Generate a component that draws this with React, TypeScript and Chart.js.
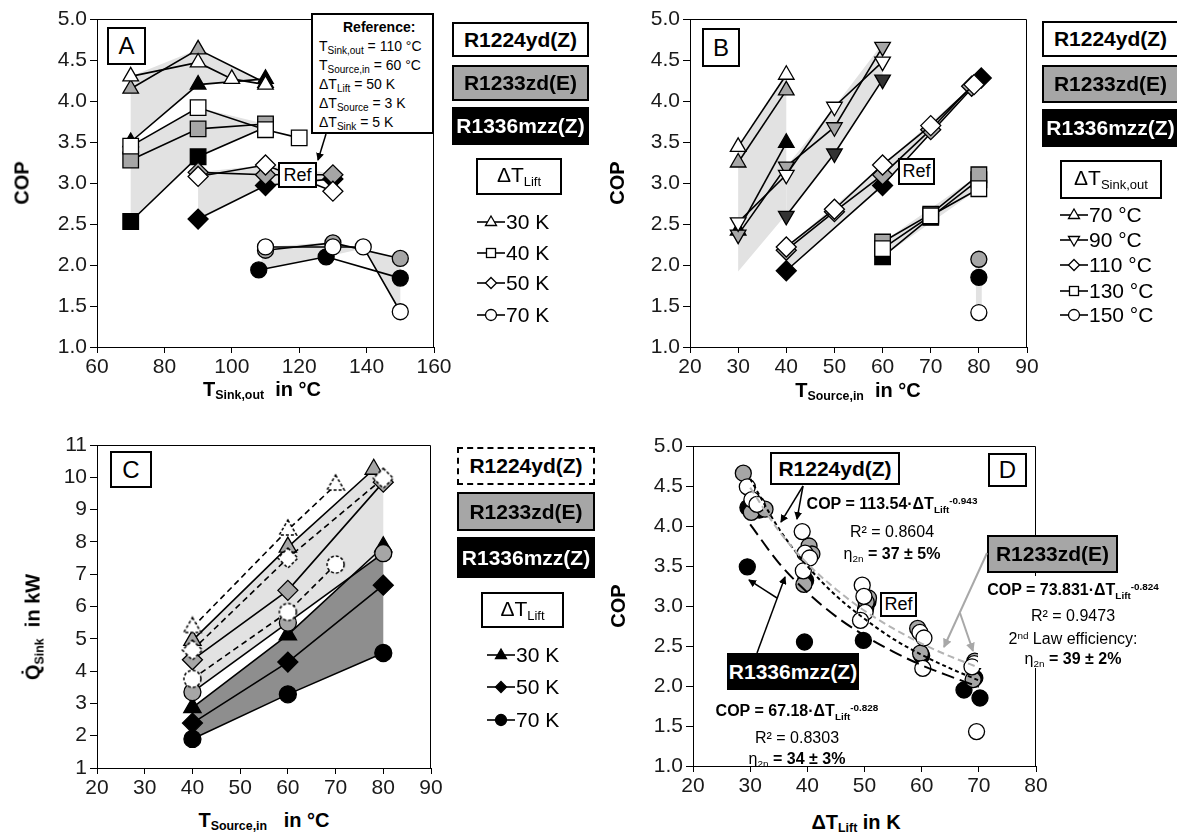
import React, { useEffect, useRef } from 'react';
import { Chart, registerables } from 'chart.js';

Chart.register(...registerables);

type P = [number, number];

// ===== Panel A: COP vs T_Sink,out =====
const A_W30: P[] = [[70, 4.30], [90, 4.47], [100, 4.27], [110, 4.20]];
const A_G30: P[] = [[70, 4.15], [90, 4.63], [110, 4.22]];
const A_B30: P[] = [[70, 3.50], [90, 4.20], [110, 4.27]];
const A_W40: P[] = [[70, 3.45], [90, 3.92], [110, 3.65], [120, 3.55]];
const A_G40: P[] = [[70, 3.28], [90, 3.66], [110, 3.72]];
const A_B40: P[] = [[70, 2.53], [90, 3.32], [110, 3.68]];
const A_W50: P[] = [[90, 3.08], [110, 3.22], [130, 2.90]];
const A_G50: P[] = [[90, 3.13], [110, 3.10], [130, 3.10]];
const A_B50: P[] = [[90, 2.56], [110, 2.97], [130, 3.05]];
const A_W70: P[] = [[110, 2.22], [130, 2.22], [139, 2.22], [150, 1.43]];
const A_G70: P[] = [[110, 2.18], [130, 2.27], [150, 2.08]];
const A_B70: P[] = [[108, 1.94], [128, 2.10], [150, 1.84]];
const A_BAND30: P[] = [[70, 4.30], [90, 4.63], [110, 4.22], [110, 4.27], [90, 4.20], [70, 3.50]];
const A_BAND40: P[] = [[70, 3.45], [90, 3.92], [110, 3.72], [110, 3.68], [90, 3.32], [70, 2.53]];
const A_BAND50: P[] = [[90, 3.13], [110, 3.22], [130, 3.12], [130, 3.05], [110, 2.97], [90, 2.56]];
const A_BAND70: P[] = [[110, 2.22], [130, 2.28], [150, 2.08], [150, 1.43], [139, 2.20], [128, 2.10], [108, 1.94]];

// ===== Panel B: COP vs T_Source,in =====
const B_W70: P[] = [[30, 3.44], [40, 4.32]];
const B_G70: P[] = [[30, 3.25], [40, 4.13]];
const B_B70: P[] = [[30, 2.42], [40, 3.49]];
const B_W90: P[] = [[30, 2.52], [40, 3.10], [50, 3.93], [60, 4.48]];
const B_G90: P[] = [[30, 2.37], [40, 3.20], [50, 3.68], [60, 4.66]];
const B_B90: P[] = [[40, 2.60], [50, 3.36], [60, 4.26]];
const B_W110: P[] = [[40, 2.22], [50, 2.68], [60, 3.22], [70, 3.70], [79, 4.20]];
const B_G110: P[] = [[40, 2.18], [50, 2.65], [60, 3.10], [70, 3.65], [78.5, 4.18]];
const B_B110: P[] = [[40, 1.93], [60, 2.97], [80.5, 4.28]];
const B_W130: P[] = [[60, 2.20], [70, 2.60], [80, 2.93]];
const B_G130: P[] = [[60, 2.28], [70, 2.62], [80, 3.10]];
const B_B130: P[] = [[60, 2.10], [70, 2.58], [80, 3.04]];
const B_W150: P[] = [[80, 1.42]];
const B_G150: P[] = [[80, 2.07]];
const B_B150: P[] = [[80, 1.85]];
const B_BAND70: P[] = [[30, 3.44], [40, 4.32], [40, 2.62], [30, 1.92]];
const B_BAND90: P[] = [[40, 3.20], [50, 3.93], [60, 4.70], [60, 4.26], [50, 3.36], [40, 2.60]];
const B_BAND110: P[] = [[40, 2.22], [60, 3.22], [79, 4.20], [80.5, 4.28], [60, 2.97], [40, 1.93]];
const B_BAND130: P[] = [[60, 2.28], [80, 3.10], [80, 2.93], [60, 2.10]];
const B_BAND150: P[] = [[79.4, 2.07], [80.6, 2.07], [80.6, 1.42], [79.4, 1.42]];

// ===== Panel C: Q_Sink vs T_Source,in =====
const C_W30: P[] = [[40, 5.35], [60, 8.37], [70, 9.76]];
const C_G30: P[] = [[40, 4.95], [60, 7.84], [78, 10.25]];
const C_W50: P[] = [[40, 4.65], [60, 7.50], [80, 9.97]];
const C_G50: P[] = [[40, 4.35], [60, 6.50], [80, 9.85]];
const C_W70: P[] = [[40, 3.76], [60, 5.83], [70, 7.30]];
const C_G70: P[] = [[40, 3.35], [60, 5.50], [80, 7.65]];
const C_B30: P[] = [[40, 2.87], [60, 5.12], [80, 7.85]];
const C_B50: P[] = [[40, 2.39], [60, 4.28], [80, 6.66]];
const C_B70: P[] = [[40, 1.90], [60, 3.28], [80, 4.56]];
const C_LIGHT: P[] = [[40, 4.95], [60, 7.84], [78, 10.25], [80, 10.25], [80, 7.65], [60, 5.50], [40, 3.35]];
const C_DARK: P[] = [[40, 2.87], [60, 5.12], [80, 7.85], [80, 4.56], [60, 3.28], [40, 1.90]];

// ===== Panel D: COP vs ΔT_Lift =====
const D_R1224: P[] = [[29.5, 4.49], [30.3, 4.33], [31.2, 4.27], [39.1, 3.93], [39.6, 3.66], [40.4, 3.60], [39.3, 3.44], [49.6, 3.26], [49.9, 3.12], [50.1, 2.92], [49.3, 2.82], [59.7, 2.67], [60.4, 2.60], [60.2, 2.22], [69.2, 2.28], [68.8, 2.24], [69.6, 1.43]];
const D_R1233: P[] = [[28.8, 4.66], [30.2, 4.17], [32.6, 4.21], [40.3, 3.75], [40.8, 3.65], [39.4, 3.27], [50.7, 3.10], [50.3, 3.05], [59.3, 2.72], [59.8, 2.41], [69.3, 2.31], [69.0, 2.08]];
const D_R1336: P[] = [[29.6, 4.23], [29.5, 3.49], [31.6, 4.20], [39.7, 3.32], [40.1, 3.68], [39.5, 2.55], [49.8, 2.57], [50.2, 2.97], [50.6, 3.05], [60.0, 2.38], [67.4, 1.95], [70.2, 1.85], [69.3, 2.10]];
const D_FIT_X = [30, 35, 40, 45, 50, 55, 60, 65, 70];
const D_FIT_R1224 = [4.59, 3.97, 3.50, 3.13, 2.84, 2.59, 2.39, 2.22, 2.07];
const D_FIT_R1233 = [4.48, 3.94, 3.53, 3.21, 2.94, 2.72, 2.53, 2.37, 2.23];
const D_FIT_R1336 = [4.02, 3.54, 3.17, 2.87, 2.63, 2.43, 2.26, 2.12, 1.99];

// ===== styling =====
const FONT = "Arial, 'Liberation Sans', Helvetica, sans-serif";
const WHITE = '#ffffff';
const GRAY = '#a6a6a6';
const BLACK = '#000000';
const SHADE = '#e2e2e2';
const DARK = '#8e8e8e';

const pts = (d: P[]) => d.map(([x, y]) => ({ x, y }));
const zip = (xs: number[], ys: number[]) => xs.map((x, i) => ({ x, y: ys[i] }));

type Mk = { pointStyle: any; pointRadius: number; pointRotation?: number };
const TRI: Mk = { pointStyle: 'triangle', pointRadius: 9 };
const TRID: Mk = { pointStyle: 'triangle', pointRadius: 9, pointRotation: 180 };
const SQ: Mk = { pointStyle: 'rect', pointRadius: 11 };
const DIA: Mk = { pointStyle: 'rectRot', pointRadius: 10 };
const CIR: Mk = { pointStyle: 'circle', pointRadius: 8 };

function ser(d: P[], mk: Mk, fill: string, extra: any = {}) {
  return {
    data: pts(d),
    showLine: true,
    borderColor: '#000',
    borderWidth: 1.6,
    pointStyle: mk.pointStyle,
    pointRadius: mk.pointRadius,
    pointRotation: mk.pointRotation || 0,
    pointBackgroundColor: fill,
    pointBorderColor: '#000',
    pointBorderWidth: 1.3,
    fill: false,
    tension: 0,
    order: 1,
    ...extra,
  };
}

function band(d: P[], color: string) {
  return {
    data: pts(d),
    showLine: true,
    borderWidth: 0,
    borderColor: 'rgba(0,0,0,0)',
    backgroundColor: color,
    fill: 'shape',
    pointRadius: 0,
    tension: 0,
    order: 10,
  };
}

function dashedMarker(shape: string, r: number): HTMLCanvasElement {
  const s = Math.ceil(2 * r + 4);
  const c = document.createElement('canvas');
  c.width = s;
  c.height = s;
  const g = c.getContext('2d')!;
  const cx = s / 2;
  const cy = s / 2;
  g.beginPath();
  if (shape === 'triangle') {
    for (let i = 0; i < 3; i++) {
      const a = -Math.PI / 2 + (i * 2 * Math.PI) / 3;
      const x = cx + r * Math.cos(a);
      const y = cy + r * Math.sin(a);
      if (i === 0) g.moveTo(x, y);
      else g.lineTo(x, y);
    }
    g.closePath();
  } else if (shape === 'diamond') {
    g.moveTo(cx, cy - r);
    g.lineTo(cx + r, cy);
    g.lineTo(cx, cy + r);
    g.lineTo(cx - r, cy);
    g.closePath();
  } else {
    g.arc(cx, cy, r, 0, Math.PI * 2);
  }
  g.fillStyle = '#fff';
  g.fill();
  g.setLineDash([3, 2]);
  g.lineWidth = 1.5;
  g.strokeStyle = '#000';
  g.stroke();
  return c;
}

function axes(xMin: number, xMax: number, xStep: number, yMin: number, yMax: number, yStep: number, yDec: number, yW: number, xH: number) {
  const tickFont = { family: FONT, size: 21 };
  return {
    x: {
      type: 'linear',
      min: xMin,
      max: xMax,
      ticks: { stepSize: xStep, color: '#1a1a1a', font: tickFont, padding: 2, maxRotation: 0, autoSkip: false },
      grid: { drawOnChartArea: false, drawTicks: true, tickLength: 6, tickColor: '#000', tickWidth: 1 },
      border: { display: true, color: '#000', width: 1 },
      afterFit: (s: any) => {
        s.height = xH;
      },
    },
    y: {
      type: 'linear',
      min: yMin,
      max: yMax,
      ticks: {
        stepSize: yStep,
        color: '#1a1a1a',
        font: tickFont,
        padding: 3,
        autoSkip: false,
        callback: (v: any) => Number(v).toFixed(yDec),
      },
      grid: { drawOnChartArea: false, drawTicks: true, tickLength: 7, tickColor: '#000', tickWidth: 1 },
      border: { display: true, color: '#000', width: 1 },
      afterFit: (s: any) => {
        s.width = yW;
      },
    },
  };
}

const framePlugin = {
  id: 'frame',
  beforeDatasetsDraw(chart: any) {
    const { ctx, chartArea: a } = chart;
    ctx.save();
    ctx.strokeStyle = '#000';
    ctx.lineWidth = 1;
    ctx.beginPath();
    ctx.moveTo(Math.round(a.left), Math.round(a.top) + 0.5);
    ctx.lineTo(Math.round(a.right) - 0.5, Math.round(a.top) + 0.5);
    ctx.lineTo(Math.round(a.right) - 0.5, Math.round(a.bottom));
    ctx.stroke();
    ctx.restore();
  },
};

function cfg(datasets: any[], scales: any, padding: any) {
  return {
    type: 'line',
    data: { datasets },
    options: {
      responsive: false,
      animation: false,
      events: [],
      layout: { padding },
      plugins: { legend: { display: false }, tooltip: { enabled: false } },
      scales,
    },
    plugins: [framePlugin],
  } as any;
}

function buildA() {
  return cfg(
    [
      ser(A_W30, TRI, WHITE),
      ser(A_G30, TRI, GRAY),
      ser(A_B30, TRI, BLACK, { order: 2 }),
      ser(A_W40, SQ, WHITE),
      ser(A_G40, SQ, GRAY, { order: 2 }),
      ser(A_B40, SQ, BLACK, { order: 3 }),
      ser(A_W50, DIA, WHITE),
      ser(A_G50, DIA, GRAY, { order: 2 }),
      ser(A_B50, DIA, BLACK, { order: 3 }),
      ser(A_W70, CIR, WHITE),
      ser(A_G70, CIR, GRAY, { order: 2 }),
      ser(A_B70, CIR, BLACK, { order: 3 }),
      band(A_BAND30, SHADE),
      band(A_BAND40, SHADE),
      band(A_BAND50, SHADE),
      band(A_BAND70, SHADE),
    ],
    axes(60, 160, 20, 1, 5, 0.5, 1, 97, 33),
    { top: 19, right: 26, left: 0, bottom: 0 }
  );
}

function buildB() {
  return cfg(
    [
      ser(B_W70, TRI, WHITE),
      ser(B_G70, TRI, GRAY),
      ser(B_B70, TRI, BLACK, { order: 3 }),
      ser(B_W90, TRID, WHITE),
      ser(B_G90, TRID, GRAY, { order: 2 }),
      ser(B_B90, TRID, '#333333', { order: 2 }),
      ser(B_W110, DIA, WHITE),
      ser(B_G110, DIA, GRAY, { order: 2 }),
      ser(B_B110, DIA, BLACK, { order: 2 }),
      ser(B_W130, SQ, WHITE),
      ser(B_G130, SQ, GRAY, { order: 2 }),
      ser(B_B130, SQ, BLACK, { order: 3 }),
      ser(B_W150, CIR, WHITE),
      ser(B_G150, CIR, GRAY),
      ser(B_B150, CIR, BLACK),
      band(B_BAND70, SHADE),
      band(B_BAND90, SHADE),
      band(B_BAND110, SHADE),
      band(B_BAND130, SHADE),
      band(B_BAND150, SHADE),
    ],
    axes(20, 90, 10, 1, 5, 0.5, 1, 100, 33),
    { top: 19, right: 23, left: 0, bottom: 0 }
  );
}

function buildC() {
  const dTri = dashedMarker('triangle', 10);
  const dDia = dashedMarker('diamond', 10);
  const dCir = dashedMarker('circle', 8.5);
  const dashed = { borderDash: [6, 4], borderWidth: 1.6 };
  const mC = (ps: any, r: number): Mk => ({ pointStyle: ps, pointRadius: r });
  return cfg(
    [
      ser(C_W30, mC(dTri, 10), WHITE, dashed),
      ser(C_W50, mC(dDia, 10), WHITE, dashed),
      ser(C_W70, mC(dCir, 9), WHITE, dashed),
      ser(C_G30, mC('triangle', 10), GRAY, { order: 2 }),
      ser(C_G50, mC('rectRot', 10), GRAY, { order: 2 }),
      ser(C_G70, mC('circle', 8.5), GRAY, { order: 2 }),
      ser(C_B30, mC('triangle', 10), BLACK, { order: 3 }),
      ser(C_B50, mC('rectRot', 10), BLACK, { order: 3 }),
      ser(C_B70, mC('circle', 8.5), BLACK, { order: 3 }),
      band(C_LIGHT, SHADE),
      band(C_DARK, DARK),
    ],
    axes(20, 90, 10, 1, 11, 1, 0, 97, 32),
    { top: 25, right: 29, left: 0, bottom: 0 }
  );
}

function buildD() {
  const pt = (d: P[], fill: string, order: number) => ({
    data: pts(d),
    showLine: false,
    pointStyle: 'circle',
    pointRadius: 8,
    pointBackgroundColor: fill,
    pointBorderColor: '#000',
    pointBorderWidth: 1.3,
    order,
  });
  const fit = (ys: number[], color: string, dash: number[]) => ({
    data: zip(D_FIT_X, ys),
    showLine: true,
    borderColor: color,
    borderWidth: 2,
    borderDash: dash,
    pointRadius: 0,
    cubicInterpolationMode: 'monotone',
    fill: false,
    order: 0,
  });
  return cfg(
    [
      fit(D_FIT_R1233, '#b4b4b4', [7, 4]),
      fit(D_FIT_R1224, '#000', [4, 3]),
      fit(D_FIT_R1336, '#000', [13, 6]),
      pt(D_R1224, WHITE, 1),
      pt(D_R1233, GRAY, 2),
      pt(D_R1336, BLACK, 3),
    ],
    axes(20, 80, 10, 1, 5, 0.5, 1, 93, 34),
    { top: 26, right: 24, left: 0, bottom: 0 }
  );
}

function ChartBox({ left, top, width, height, build }: any) {
  const ref = useRef<HTMLCanvasElement>(null);
  useEffect(() => {
    const chart = new Chart(ref.current as HTMLCanvasElement, build());
    return () => chart.destroy();
  }, []);
  return <canvas ref={ref} width={width} height={height} style={{ position: 'absolute', left, top, width, height }} />;
}

const subS: React.CSSProperties = { fontSize: '0.62em', verticalAlign: '-0.32em' };
const supS: React.CSSProperties = { fontSize: '0.62em', verticalAlign: '0.55em' };

function Box({ l, t, w, h, bg = '#fff', color = '#000', border = '2px solid #000', fs = 21, bold = true, children }: any) {
  return (
    <div
      style={{
        position: 'absolute', left: l, top: t, width: w, height: h, boxSizing: 'border-box', background: bg, color, border,
        display: 'flex', alignItems: 'center', justifyContent: 'center', fontFamily: FONT, fontSize: fs,
        fontWeight: bold ? 700 : 400, whiteSpace: 'nowrap',
      }}
    >
      <span>{children}</span>
    </div>
  );
}

function Marker({ shape, fill }: { shape: string; fill: string }) {
  const st = { fill, stroke: '#000', strokeWidth: 1.3 };
  let m: any = null;
  if (shape === 'tri') m = <polygon points="14,4 19.5,13.5 8.5,13.5" {...st} />;
  else if (shape === 'trid') m = <polygon points="14,16 19.5,6.5 8.5,6.5" {...st} />;
  else if (shape === 'sq') m = <rect x={9.5} y={5.5} width={9} height={9} {...st} />;
  else if (shape === 'dia') m = <polygon points="14,4.5 19.5,10 14,15.5 8.5,10" {...st} />;
  else m = <circle cx={14} cy={10} r={5.5} {...st} />;
  return (
    <svg width={28} height={20} style={{ display: 'block' }}>
      <line x1={0} y1={10} x2={28} y2={10} stroke="#000" strokeWidth={1.6} />
      {m}
    </svg>
  );
}

function LegRow({ l, yc, shape, fill, label }: any) {
  return (
    <div style={{ position: 'absolute', left: l, top: yc - 12, height: 24, display: 'flex', alignItems: 'center', fontFamily: FONT, fontSize: 21, whiteSpace: 'nowrap' }}>
      <Marker shape={shape} fill={fill} />
      <span style={{ marginLeft: 1 }}>{label}</span>
    </div>
  );
}

function Txt({ x, y, rot = false, fs = 20, bold = true, children }: any) {
  return (
    <div
      style={{
        position: 'absolute', left: x, top: y, transform: `translate(-50%,-50%)${rot ? ' rotate(-90deg)' : ''}`,
        fontFamily: FONT, fontSize: fs, fontWeight: bold ? 700 : 400, whiteSpace: 'nowrap',
      }}
    >
      {children}
    </div>
  );
}

export default function App() {
  const refRow: React.CSSProperties = { height: 19, lineHeight: '19px' };
  const rs: React.CSSProperties = { fontSize: 10, verticalAlign: '-3px' };
  return (
    <div style={{ position: 'absolute', left: 0, top: 0, width: 1177, height: 836, background: '#fff', overflow: 'hidden' }}>
      <ChartBox left={0} top={0} width={460} height={380} build={buildA} />
      <ChartBox left={590} top={0} width={460} height={380} build={buildB} />
      <ChartBox left={0} top={420} width={460} height={380} build={buildC} />
      <ChartBox left={600} top={420} width={460} height={380} build={buildD} />

      {/* Axis titles */}
      <Txt x={22} y={183} rot>COP</Txt>
      <Txt x={262} y={390}>T<span style={subS}>Sink,out</span>&nbsp; in °C</Txt>
      <Txt x={617} y={183} rot>COP</Txt>
      <Txt x={858} y={391}>T<span style={subS}>Source,in</span>&nbsp; in °C</Txt>
      <Txt x={34} y={627} rot>Q&#775;<span style={subS}>Sink</span>&nbsp; in kW</Txt>
      <Txt x={264} y={821}>T<span style={subS}>Source,in</span>&nbsp;&nbsp; in °C</Txt>
      <Txt x={618} y={606} rot>COP</Txt>
      <Txt x={856} y={823}>ΔT<span style={subS}>Lift</span> in K</Txt>

      {/* Panel letters */}
      <Box l={107} t={27} w={39} h={38} fs={24} bold={false}>A</Box>
      <Box l={702} t={28} w={38} h={39} fs={24} bold={false}>B</Box>
      <Box l={110} t={451} w={42} h={37} fs={24} bold={false}>C</Box>
      <Box l={988} t={453} w={39} h={34} fs={24} bold={false}>D</Box>

      {/* Panel A reference box */}
      <div style={{ position: 'absolute', left: 311, top: 13, width: 123, height: 121, boxSizing: 'border-box', border: '2px solid #000', background: '#fff', fontFamily: FONT, fontSize: 14, padding: '3px 0 0 6px', whiteSpace: 'nowrap' }}>
        <div style={{ ...refRow, fontWeight: 700, paddingLeft: 24 }}>Reference:</div>
        <div style={refRow}>T<span style={rs}>Sink,out</span> = 110 °C</div>
        <div style={refRow}>T<span style={rs}>Source,in</span> = 60 °C</div>
        <div style={refRow}>ΔT<span style={rs}>Lift</span> = 50 K</div>
        <div style={refRow}>ΔT<span style={rs}>Source</span> = 3 K</div>
        <div style={refRow}>ΔT<span style={rs}>Sink</span> = 5 K</div>
      </div>
      <Box l={278} t={162} w={39} h={26} fs={18} bold={false}>Ref</Box>
      <Box l={898} t={158} w={37} h={27} fs={18} bold={false}>Ref</Box>
      <Box l={880} t={592} w={37} h={25} fs={18} bold={false}>Ref</Box>

      {/* Panel A legend */}
      <Box l={452} t={22} w={137} h={35}>R1224yd(Z)</Box>
      <Box l={452} t={65} w={137} h={36} bg={GRAY}>R1233zd(E)</Box>
      <Box l={452} t={107} w={137} h={38} bg={BLACK} color="#fff">R1336mzz(Z)</Box>
      <Box l={476} t={158} w={86} h={37} fs={21} bold={false}>ΔT<span style={subS}>Lift</span></Box>
      <LegRow l={477} yc={222} shape="tri" fill={WHITE} label="30 K" />
      <LegRow l={477} yc={253} shape="sq" fill={WHITE} label="40 K" />
      <LegRow l={477} yc={283} shape="dia" fill={WHITE} label="50 K" />
      <LegRow l={477} yc={315} shape="cir" fill={WHITE} label="70 K" />

      {/* Panel B legend */}
      <Box l={1042} t={21} w={137} h={36}>R1224yd(Z)</Box>
      <Box l={1042} t={65} w={137} h={38} bg={GRAY}>R1233zd(E)</Box>
      <Box l={1042} t={109} w={137} h={38} bg={BLACK} color="#fff">R1336mzz(Z)</Box>
      <Box l={1060} t={160} w={102} h={39} fs={21} bold={false}>ΔT<span style={subS}>Sink,out</span></Box>
      <LegRow l={1060} yc={215} shape="tri" fill={WHITE} label="70 °C" />
      <LegRow l={1060} yc={240} shape="trid" fill={WHITE} label="90 °C" />
      <LegRow l={1060} yc={265} shape="dia" fill={WHITE} label="110 °C" />
      <LegRow l={1060} yc={291} shape="sq" fill={WHITE} label="130 °C" />
      <LegRow l={1060} yc={315} shape="cir" fill={WHITE} label="150 °C" />

      {/* Panel C legend */}
      <Box l={457} t={447} w={138} h={38} border="2px dashed #000">R1224yd(Z)</Box>
      <Box l={457} t={492} w={138} h={39} bg={GRAY}>R1233zd(E)</Box>
      <Box l={457} t={537} w={138} h={41} bg={BLACK} color="#fff">R1336mzz(Z)</Box>
      <Box l={481} t={592} w={83} h={36} fs={21} bold={false}>ΔT<span style={subS}>Lift</span></Box>
      <LegRow l={487} yc={655} shape="tri" fill={BLACK} label="30 K" />
      <LegRow l={487} yc={687} shape="dia" fill={BLACK} label="50 K" />
      <LegRow l={487} yc={720} shape="cir" fill={BLACK} label="70 K" />

      {/* Panel D annotations */}
      <Box l={770} t={452} w={130} h={33}>R1224yd(Z)</Box>
      <div style={{ position: 'absolute', left: 798, top: 490, width: 188, fontFamily: FONT, fontSize: 16, lineHeight: '22px', textAlign: 'center', whiteSpace: 'nowrap' }}>
        <div style={{ fontWeight: 700 }}>COP = 113.54·ΔT<span style={subS}>Lift</span><span style={supS}>-0.943</span></div>
        <div>R² = 0.8604</div>
        <div>η<span style={subS}>2n</span><b> = 37 ± 5%</b></div>
      </div>
      <Box l={987} t={535} w={131} h={38} bg={GRAY}>R1233zd(E)</Box>
      <div style={{ position: 'absolute', left: 978, top: 576, width: 190, height: 92, background: '#fff', fontFamily: FONT, fontSize: 16, lineHeight: '20px', textAlign: 'center', whiteSpace: 'nowrap', paddingTop: 1, boxSizing: 'border-box' }}>
        <div style={{ fontWeight: 700 }}>COP = 73.831·ΔT<span style={subS}>Lift</span><span style={supS}>-0.824</span></div>
        <div>R² = 0.9473</div>
        <div>2<span style={supS}>nd</span> Law efficiency:</div>
        <div>η<span style={subS}>2n</span><b> = 39 ± 2%</b></div>
      </div>
      <Box l={727} t={653} w={132} h={37} bg={BLACK} color="#fff">R1336mzz(Z)</Box>
      <div style={{ position: 'absolute', left: 705, top: 697, width: 184, fontFamily: FONT, fontSize: 16, lineHeight: '21px', textAlign: 'center', whiteSpace: 'nowrap' }}>
        <div style={{ fontWeight: 700 }}>COP = 67.18·ΔT<span style={subS}>Lift</span><span style={supS}>-0.828</span></div>
        <div>R² = 0.8303</div>
        <div>η<span style={subS}>2n</span><b> = 34 ± 3%</b></div>
      </div>

      {/* Arrows */}
      <svg width={1177} height={836} style={{ position: 'absolute', left: 0, top: 0, pointerEvents: 'none' }}>
        <defs>
          <marker id="ahk" markerWidth="8" markerHeight="8" refX="7" refY="4" orient="auto" markerUnits="userSpaceOnUse">
            <path d="M0,0 L8,4 L0,8 z" fill="#000" />
          </marker>
          <marker id="ahg" markerWidth="9" markerHeight="9" refX="8" refY="4.5" orient="auto" markerUnits="userSpaceOnUse">
            <path d="M0,0 L9,4.5 L0,9 z" fill="#a8a8a8" />
          </marker>
        </defs>
        <line x1={326} y1={134} x2={318} y2={160} stroke="#000" strokeWidth={1.5} markerEnd="url(#ahk)" />
        <line x1={803} y1={486} x2={781} y2={522} stroke="#000" strokeWidth={1.5} markerEnd="url(#ahk)" />
        <line x1={803} y1={486} x2={797} y2={519} stroke="#000" strokeWidth={1.5} markerEnd="url(#ahk)" />
        <line x1={757} y1={653} x2={785} y2={577} stroke="#000" strokeWidth={1.5} markerEnd="url(#ahk)" />
        <line x1={777} y1={598} x2={749} y2={580} stroke="#000" strokeWidth={1.5} markerEnd="url(#ahk)" />
        <line x1={987} y1={553} x2={944} y2={647} stroke="#a8a8a8" strokeWidth={2} markerEnd="url(#ahg)" />
        <line x1={960} y1={613} x2={973} y2={651} stroke="#a8a8a8" strokeWidth={2} markerEnd="url(#ahg)" />
      </svg>
    </div>
  );
}
